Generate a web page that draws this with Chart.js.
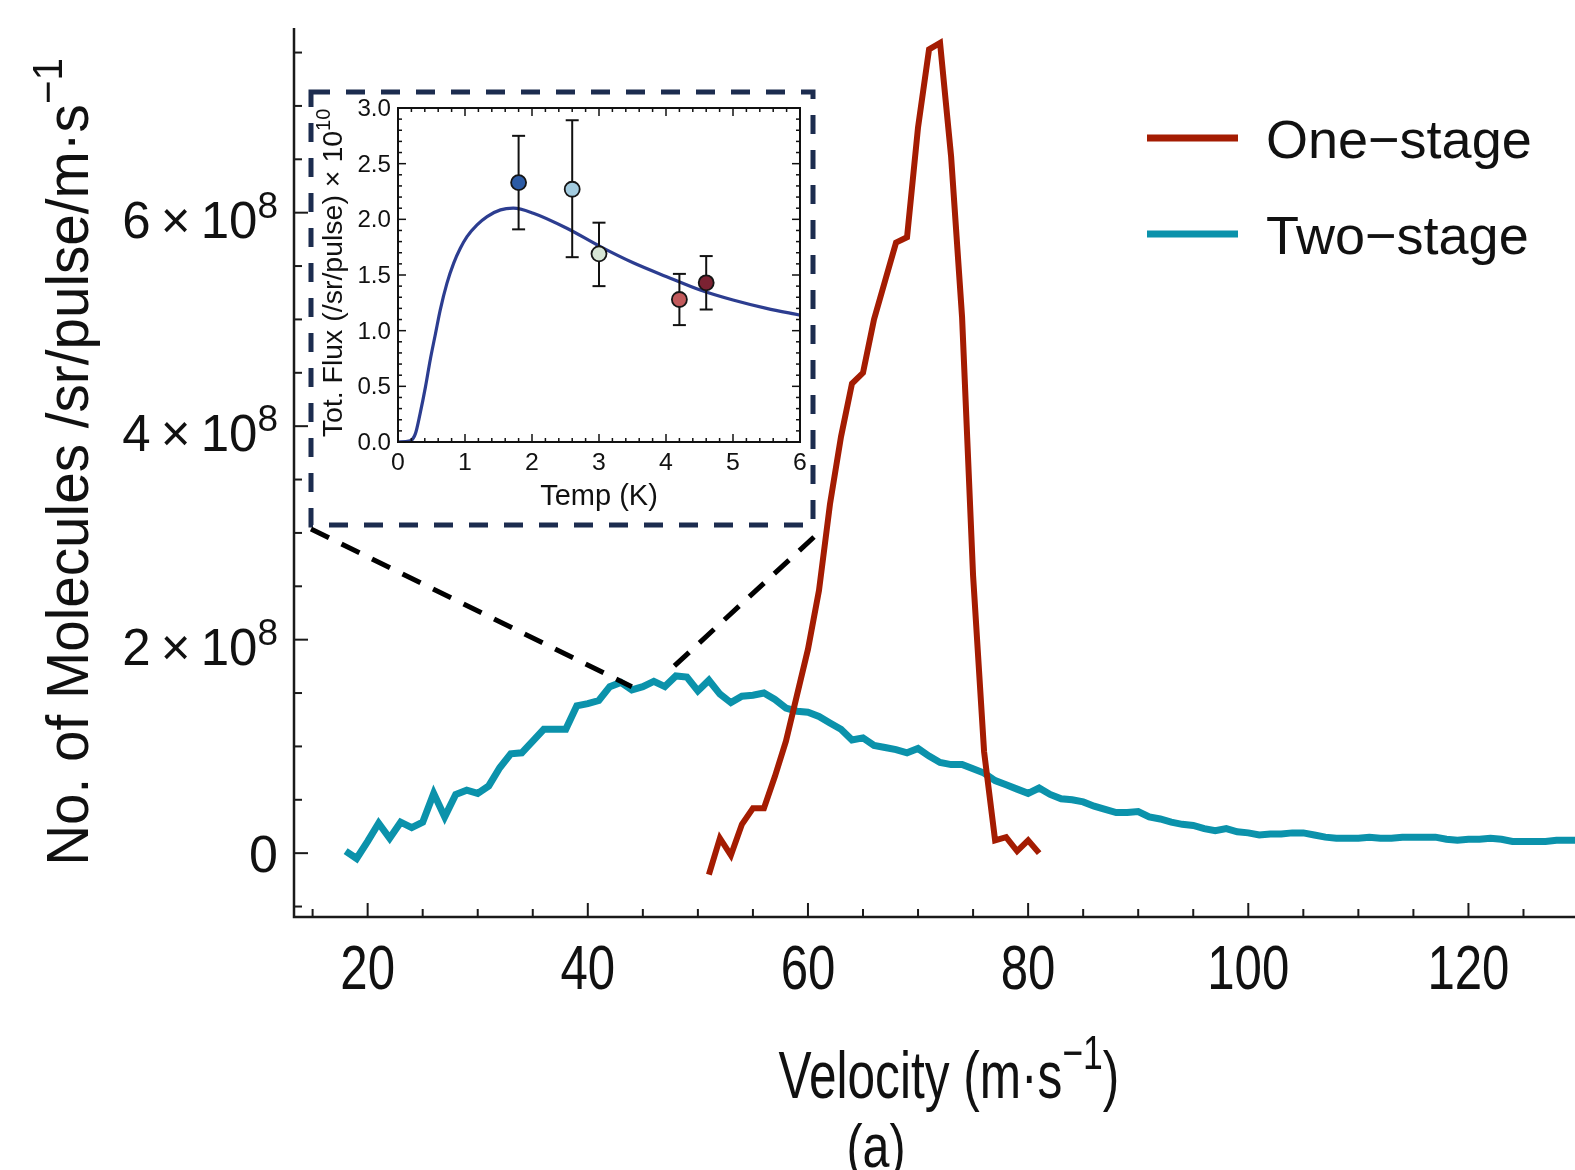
<!DOCTYPE html>
<html>
<head>
<meta charset="utf-8">
<script src="https://cdn.jsdelivr.net/npm/chart.js@4.4.1/dist/chart.umd.min.js"></script>
<style>
  html, body { margin: 0; padding: 0; background: #fff; }
  #wrap { position: relative; width: 1575px; height: 1170px; overflow: hidden; }
  #main { position: absolute; left: 0; top: 0; }
  #inset { position: absolute; left: 298px; top: 80px; }
</style>
</head>
<body>
<div id="wrap">
  <canvas id="main" width="1575" height="1170"></canvas>
  <canvas id="inset" width="530" height="460"></canvas>
</div>
<script>
// velocity distributions, values in units of 10^8 molecules /sr/pulse/m.s^-1
const seriesNames = ['One\u2212stage', 'Two\u2212stage'];
const oneStageV = [51, 52, 53, 54, 55, 56, 57, 58, 59, 60, 61, 62, 63, 64, 65, 66, 67, 68, 69, 70,
  71, 72, 73, 74, 75, 76, 77, 78, 79, 80, 81];
const oneStageY = [-0.20, 0.14, -0.02, 0.27, 0.42, 0.42, 0.72, 1.05, 1.48, 1.91, 2.46, 3.27, 3.90, 4.40, 4.50, 5.00, 5.36, 5.72, 5.77, 6.80,
  7.53, 7.59, 6.53, 5.02, 2.60, 0.95, 0.12, 0.15, 0.02, 0.12, 0.00];
const twoStageV = [18, 19, 20, 21, 22, 23, 24, 25, 26, 27, 28, 29, 30, 31, 32, 33, 34, 35, 36, 37,
  38, 39, 40, 41, 42, 43, 44, 45, 46, 47, 48, 49, 50, 51, 52, 53, 54, 55, 56, 57,
  58, 59, 60, 61, 62, 63, 64, 65, 66, 67, 68, 69, 70, 71, 72, 73, 74, 75, 76, 77,
  78, 79, 80, 81, 82, 83, 84, 85, 86, 87, 88, 89, 90, 91, 92, 93, 94, 95, 96, 97,
  98, 99, 100, 101, 102, 103, 104, 105, 106, 107, 108, 109, 110, 111, 112, 113, 114, 115, 116, 117,
  118, 119, 120, 121, 122, 123, 124, 125, 126, 127, 128, 129, 130];
const twoStageY = [0.02, -0.05, 0.11, 0.28, 0.14, 0.29, 0.24, 0.29, 0.56, 0.34, 0.55, 0.59, 0.56, 0.63, 0.80, 0.93, 0.94, 1.05, 1.16, 1.16,
  1.16, 1.38, 1.40, 1.43, 1.56, 1.60, 1.53, 1.56, 1.61, 1.56, 1.66, 1.65, 1.52, 1.62, 1.49, 1.41, 1.47, 1.48, 1.50, 1.44,
  1.36, 1.33, 1.32, 1.28, 1.22, 1.16, 1.06, 1.08, 1.01, 0.99, 0.97, 0.94, 0.98, 0.91, 0.85, 0.83, 0.83, 0.79, 0.75, 0.68,
  0.64, 0.60, 0.56, 0.61, 0.55, 0.51, 0.50, 0.48, 0.44, 0.41, 0.38, 0.38, 0.39, 0.34, 0.32, 0.29, 0.27, 0.26, 0.23, 0.21,
  0.23, 0.20, 0.19, 0.17, 0.18, 0.18, 0.19, 0.19, 0.17, 0.15, 0.14, 0.14, 0.14, 0.15, 0.14, 0.14, 0.15, 0.15, 0.15, 0.15,
  0.13, 0.12, 0.13, 0.13, 0.14, 0.13, 0.11, 0.11, 0.11, 0.11, 0.12, 0.12, 0.12];
const velocityTicks = [20, 40, 60, 80, 100, 120];
const moleculeTicks = [0, 2, 4, 6]; // x 10^8
const zoomTarget = [[44.0, 1.56], [47.3, 1.70]]; // where the inset connectors meet the curve

// inset: total flux vs source temperature, units of 10^10 /sr/pulse
const fluxCurveT = [0, 0.18, 0.26, 0.33, 0.41, 0.48, 0.56, 0.63, 0.73, 0.83, 0.93, 1.03, 1.18, 1.33, 1.53, 1.72,
  2.02, 2.52, 3.02, 3.51, 4.01, 4.51, 5.0, 5.5, 6.0];
const fluxCurveY = [0, 0.01, 0.075, 0.255, 0.495, 0.735, 0.975, 1.185, 1.425, 1.605, 1.74, 1.845, 1.95, 2.025, 2.085, 2.10,
  2.055, 1.92, 1.755, 1.61, 1.485, 1.365, 1.275, 1.20, 1.14];
const tempMeas = [1.8, 2.6, 3.0, 4.2, 4.6];
const fluxMeas = [2.33, 2.27, 1.69, 1.28, 1.43];
const fluxLow = [1.91, 1.66, 1.40, 1.05, 1.19];
const fluxHigh = [2.75, 2.89, 1.97, 1.51, 1.67];
const measColors = ['#2c5ba5', '#a3cce0', '#d7e6d5', '#c25a5c', '#7b2232'];
const tempTicks = [0, 1, 2, 3, 4, 5, 6];
const fluxTicks = [0, 0.5, 1.0, 1.5, 2.0, 2.5, 3.0];

const oneColor = '#a41c02';
const twoColor = '#0b92ab';
const boxColor = '#1c2c4f';
const insetBox = { left: 311, top: 92, right: 813, bottom: 525 };

const font = size => size + 'px "Liberation Sans", Arial, Helvetica, sans-serif';

// draws text made of parts [text, size, rise], optionally squeezed and rotated
function drawRich(ctx, x, y, parts, opt) {
  const o = Object.assign({ align: 'left', sx: 1, rot: 0, color: '#111' }, opt);
  let w = 0;
  parts.forEach(p => { ctx.font = font(p[1]); w += ctx.measureText(p[0]).width; });
  ctx.save();
  ctx.translate(x, y);
  if (o.rot) ctx.rotate(o.rot);
  ctx.scale(o.sx, 1);
  ctx.fillStyle = o.color;
  ctx.textBaseline = 'alphabetic';
  ctx.textAlign = 'left';
  let cx = o.align === 'center' ? -w / 2 : (o.align === 'right' ? -w : 0);
  parts.forEach(p => {
    ctx.font = font(p[1]);
    ctx.fillText(p[0], cx, -(p[2] || 0));
    cx += ctx.measureText(p[0]).width;
  });
  ctx.restore();
}

function seg(ctx, x1, y1, x2, y2) {
  ctx.beginPath(); ctx.moveTo(x1, y1); ctx.lineTo(x2, y2); ctx.stroke();
}

const mainDecor = {
  id: 'mainDecor',
  afterDraw(chart) {
    const { ctx, chartArea: a, scales: { x, y } } = chart;
    ctx.save();
    ctx.strokeStyle = '#1a1a1a';
    ctx.lineWidth = 2.5;
    ctx.beginPath();
    ctx.moveTo(a.left, a.top); ctx.lineTo(a.left, a.bottom); ctx.lineTo(a.right, a.bottom);
    ctx.stroke();

    // inward ticks
    ctx.lineWidth = 2;
    for (let v = 15; v <= 125; v += 5) {
      const px = x.getPixelForValue(v);
      seg(ctx, px, a.bottom, px, a.bottom - (velocityTicks.includes(v) ? 14 : 8));
    }
    for (let k = -1; k <= 15; k++) {
      const val = k * 0.5;
      const py = y.getPixelForValue(val);
      seg(ctx, a.left, py, a.left + (moleculeTicks.includes(val) ? 14 : 8), py);
    }

    // tick labels
    velocityTicks.forEach(v => {
      drawRich(ctx, x.getPixelForValue(v), 989, [[String(v), 63]], { align: 'center', sx: 0.78 });
    });
    moleculeTicks.forEach(m => {
      const py = y.getPixelForValue(m);
      if (m === 0) drawRich(ctx, 278, py + 19, [['0', 52]], { align: 'right' });
      else drawRich(ctx, 278, py + 25, [[m + '\u2009\u00d7\u200910', 51], ['8', 37, 20]], { align: 'right' });
    });

    // axis titles
    drawRich(ctx, 949, 1098, [['Velocity (m\u00b7s', 67], ['\u22121', 48, 29], [')', 67]], { align: 'center', sx: 0.74 });
    drawRich(ctx, 88, 462, [['No. of Molecules /sr/pulse/m\u00b7s', 59], ['\u22121', 42, 26]],
      { align: 'center', sx: 0.96, rot: -Math.PI / 2 });
    drawRich(ctx, 876, 1167, [['(a)', 62]], { align: 'center', sx: 0.78 });

    // legend
    const rows = [138, 234];
    chart.data.datasets.forEach((ds, i) => {
      ctx.strokeStyle = ds.borderColor;
      ctx.lineWidth = 7;
      seg(ctx, 1147, rows[i], 1238, rows[i]);
      drawRich(ctx, 1266, rows[i] + 20, [[ds.label, 54]], {});
    });

    // dashed inset frame and connectors
    ctx.strokeStyle = boxColor;
    ctx.lineWidth = 5;
    ctx.setLineDash([19, 16]);
    ctx.strokeRect(insetBox.left, insetBox.top, insetBox.right - insetBox.left, insetBox.bottom - insetBox.top);
    ctx.strokeStyle = '#000';
    ctx.lineWidth = 5;
    ctx.setLineDash([20, 14]);
    seg(ctx, insetBox.left, insetBox.bottom + 4,
      x.getPixelForValue(zoomTarget[0][0]), y.getPixelForValue(zoomTarget[0][1]));
    seg(ctx, insetBox.right + 1, insetBox.bottom + 12,
      x.getPixelForValue(zoomTarget[1][0]), y.getPixelForValue(zoomTarget[1][1]));
    ctx.restore();
  }
};

new Chart(document.getElementById('main'), {
  type: 'line',
  data: {
    datasets: [
      {
        label: seriesNames[0],
        data: oneStageV.map((v, i) => ({ x: v, y: oneStageY[i] })),
        borderColor: oneColor,
        borderWidth: 6,
        pointRadius: 0,
        fill: false
      },
      {
        label: seriesNames[1],
        data: twoStageV.map((v, i) => ({ x: v, y: twoStageY[i] })),
        borderColor: twoColor,
        borderWidth: 7,
        pointRadius: 0,
        fill: false
      }
    ]
  },
  options: {
    responsive: false,
    animation: false,
    devicePixelRatio: 1,
    layout: { padding: { left: 294, top: 28, right: 0, bottom: 253 } },
    plugins: { legend: { display: false }, tooltip: { enabled: false } },
    scales: {
      x: { type: 'linear', min: 13.31, max: 129.68, display: false },
      y: { type: 'linear', min: -0.598, max: 7.73, display: false }
    }
  },
  plugins: [mainDecor]
});

const insetDecor = {
  id: 'insetDecor',
  beforeDatasetDraw(chart, args) {
    if (args.index !== 0) return;
    const { ctx, scales: { x, y } } = chart;
    ctx.save();
    ctx.strokeStyle = '#111';
    ctx.lineWidth = 2;
    tempMeas.forEach((t, i) => {
      const px = x.getPixelForValue(t);
      const lo = y.getPixelForValue(fluxLow[i]);
      const hi = y.getPixelForValue(fluxHigh[i]);
      seg(ctx, px, lo, px, hi);
      seg(ctx, px - 6.5, lo, px + 6.5, lo);
      seg(ctx, px - 6.5, hi, px + 6.5, hi);
    });
    ctx.restore();
  },
  afterDraw(chart) {
    const { ctx, chartArea: a, scales: { x, y } } = chart;
    ctx.save();
    ctx.strokeStyle = '#111';
    ctx.lineWidth = 2;
    ctx.strokeRect(a.left, a.top, a.right - a.left, a.bottom - a.top);
    ctx.lineWidth = 1.5;
    for (let k = 0; k <= 30; k++) {
      const t = k * 0.2;
      const px = x.getPixelForValue(t);
      const len = k % 5 === 0 ? 8 : 4;
      seg(ctx, px, a.bottom, px, a.bottom - len);
      seg(ctx, px, a.top, px, a.top + len);
    }
    for (let k = 0; k <= 30; k++) {
      const py = y.getPixelForValue(k * 0.1);
      const len = k % 5 === 0 ? 8 : 4;
      seg(ctx, a.left, py, a.left + len, py);
      seg(ctx, a.right, py, a.right - len, py);
    }
    tempTicks.forEach(t => {
      drawRich(ctx, x.getPixelForValue(t), a.bottom + 28, [[String(t), 23]], { align: 'center', sx: 1.08 });
    });
    fluxTicks.forEach(f => {
      drawRich(ctx, a.left - 7, y.getPixelForValue(f) + 8, [[f.toFixed(1), 23]], { align: 'right', sx: 1.05 });
    });
    drawRich(ctx, (a.left + a.right) / 2, a.bottom + 63, [['Temp (K)', 29]], { align: 'center' });
    drawRich(ctx, 44, (a.top + a.bottom) / 2 - 2, [['Tot. Flux (/sr/pulse) \u00d7 10', 28.5], ['10', 20, 12]],
      { align: 'center', rot: -Math.PI / 2 });
    ctx.restore();
  }
};

new Chart(document.getElementById('inset'), {
  type: 'line',
  data: {
    datasets: [
      {
        label: 'measured',
        data: tempMeas.map((t, i) => ({ x: t, y: fluxMeas[i] })),
        showLine: false,
        pointRadius: 7.5,
        pointBackgroundColor: measColors,
        pointBorderColor: '#151515',
        pointBorderWidth: 1.8
      },
      {
        label: 'model',
        data: fluxCurveT.map((t, i) => ({ x: t, y: fluxCurveY[i] })),
        borderColor: '#2c3d90',
        borderWidth: 3.2,
        pointRadius: 0,
        cubicInterpolationMode: 'monotone',
        fill: false
      }
    ]
  },
  options: {
    responsive: false,
    animation: false,
    devicePixelRatio: 1,
    layout: { padding: { left: 100, top: 28, right: 28, bottom: 98 } },
    plugins: { legend: { display: false }, tooltip: { enabled: false } },
    scales: {
      x: { type: 'linear', min: 0, max: 6, display: false },
      y: { type: 'linear', min: 0, max: 3, display: false }
    }
  },
  plugins: [insetDecor]
});
</script>
</body>
</html>
